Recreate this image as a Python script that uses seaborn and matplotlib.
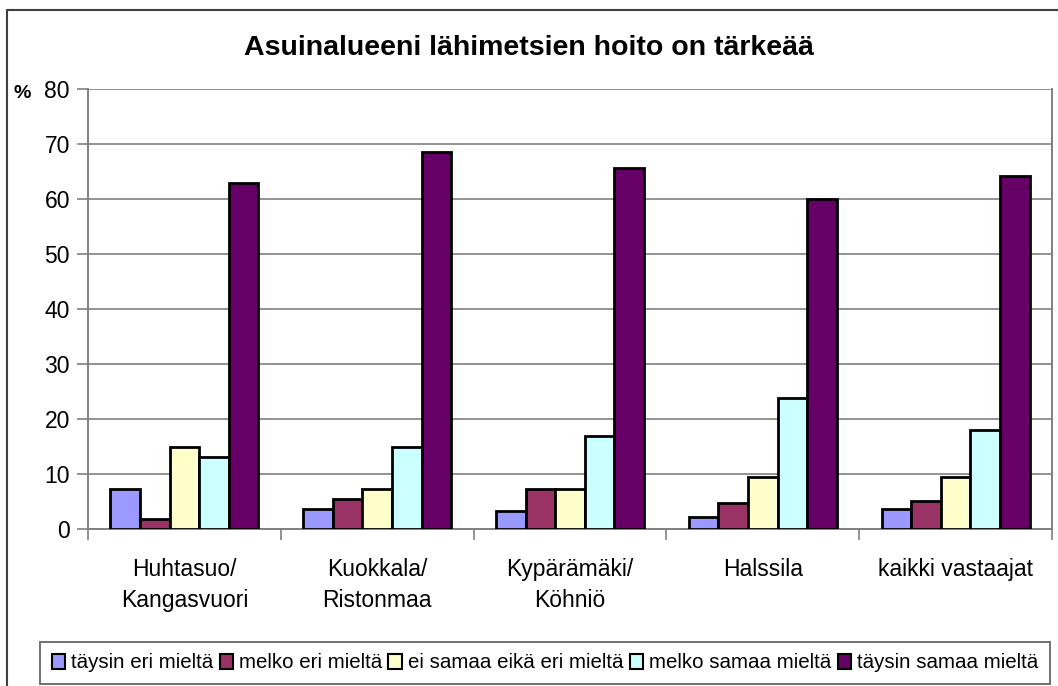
import seaborn as sns
import matplotlib.pyplot as plt
import matplotlib.patches as mpatches
import pandas as pd

# alueet ja vastausvaihtoehdot
regions = ['Huhtasuo/\nKangasvuori', 'Kuokkala/\nRistonmaa', 'Kypärämäki/\nKöhniö',
           'Halssila', 'kaikki vastaajat']
answers = ['täysin eri mieltä', 'melko eri mieltä', 'ei samaa eikä eri mieltä',
           'melko samaa mieltä', 'täysin samaa mieltä']

# prosentit vastausvaihtoehdoittain (alueiden järjestyksessä)
tays_eri = [7.3, 3.6, 3.2, 2.2, 3.6]
melko_eri = [1.8, 5.4, 7.3, 4.7, 5.1]
ei_samaa_eika_eri = [15.0, 7.3, 7.3, 9.5, 9.5]
melko_samaa = [13.1, 15.0, 16.9, 23.8, 18.0]
tays_samaa = [63.0, 68.6, 65.6, 60.0, 64.1]

colors = ['#9999FF', '#993366', '#FFFFCC', '#CCFFFF', '#660066']

series = [tays_eri, melko_eri, ei_samaa_eika_eri, melko_samaa, tays_samaa]
rows = []
for ans, vals in zip(answers, series):
    for reg, v in zip(regions, vals):
        rows.append({'alue': reg, 'vastaus': ans, 'osuus': v})
df = pd.DataFrame(rows)

sns.set_style("white")
plt.rcParams['font.family'] = ['Liberation Sans', 'DejaVu Sans']
plt.rcParams['text.color'] = 'black'
plt.rcParams['xtick.color'] = 'black'
plt.rcParams['ytick.color'] = 'black'

fig = plt.figure(figsize=(10.58, 6.86), dpi=100)
ax = fig.add_axes([88 / 1058, 1 - 529 / 686, (1052 - 88) / 1058, (529 - 89) / 686])

sns.barplot(data=df, x='alue', y='osuus', hue='vastaus', hue_order=answers,
            order=regions, palette=colors, width=0.768, edgecolor='black',
            linewidth=2.0, saturation=1, ax=ax, zorder=3)

ax.set_ylim(0, 80)
ax.set_yticks(range(0, 81, 10))
ax.set_xlim(-0.5, 4.5)
ax.grid(axis='y', color='#808080', linewidth=1.2, zorder=0)
ax.set_axisbelow(True)
for side in ['left', 'bottom', 'right']:
    ax.spines[side].set_color('#808080')
    ax.spines[side].set_linewidth(1.4)
ax.spines['top'].set_visible(False)

ax.tick_params(axis='y', which='major', direction='out', length=8, width=1.2,
               color='#808080', labelcolor='black', labelsize=16.5, pad=5, left=True)
ax.set_xticks(range(len(regions)))
ax.set_xticklabels(regions, fontsize=16.5, linespacing=1.45)
ax.tick_params(axis='x', which='major', length=0, pad=21, labelcolor='black')
ax.set_xticks([i - 0.5 for i in range(len(regions) + 1)], minor=True)
ax.tick_params(axis='x', which='minor', direction='out', length=8, width=1.2,
               color='#808080', bottom=True)
ax.set_xlabel('')
ax.set_ylabel('')

fig.text(0.5, 1 - 48 / 686, 'Asuinalueeni lähimetsien hoito on tärkeää',
         ha='center', va='center', fontsize=20.5, fontweight='bold')
fig.text(13 / 1058, 1 - 93 / 686, '%', ha='left', va='center',
         fontsize=14, fontweight='bold')

sns.move_legend(ax, 'center', bbox_to_anchor=(545 / 1058, 1 - 663 / 686),
                bbox_transform=fig.transFigure, ncol=5, title=None,
                fontsize=14.8, frameon=True, fancybox=False, handlelength=0.65,
                handleheight=0.75, handletextpad=0.3, columnspacing=0.3, borderpad=0.55,
                borderaxespad=0)
leg = ax.get_legend()
leg.get_frame().set_edgecolor('#404040')
leg.get_frame().set_linewidth(1.3)
for h in leg.legend_handles:
    h.set_linewidth(1.5)

# ulkokehys
fig.patches.append(mpatches.Rectangle((7 / 1058, -0.01), 1.0, 1 - 10 / 686 + 0.01,
                                      transform=fig.transFigure, fill=False,
                                      edgecolor='#404040', linewidth=1.5))

plt.savefig('out.png', dpi=100)
